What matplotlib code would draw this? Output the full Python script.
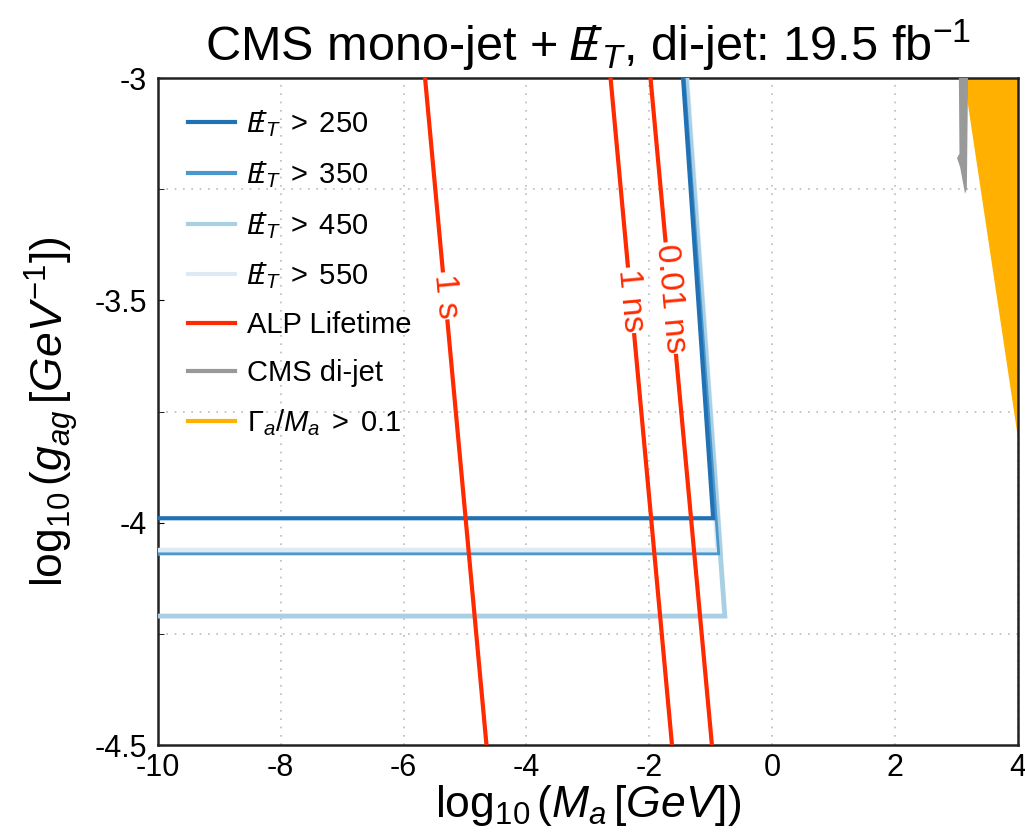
import matplotlib
matplotlib.use("Agg")
import matplotlib.pyplot as plt
import numpy as np

plt.rcParams['font.family'] = ['Liberation Sans', 'DejaVu Sans']
plt.rcParams['mathtext.fontset'] = 'custom'
plt.rcParams['mathtext.rm'] = 'Liberation Sans'
plt.rcParams['mathtext.it'] = 'Liberation Sans:italic'
plt.rcParams['mathtext.bf'] = 'Liberation Sans:bold'
plt.rcParams['axes.unicode_minus'] = False

# mono-jet + MET limits (log10 Ma, log10 g_ag), boundary of excluded region
met_labels = [r'$/\!\!\!\!E_T\;>\;250$', r'$/\!\!\!\!E_T\;>\;350$',
              r'$/\!\!\!\!E_T\;>\;450$', r'$/\!\!\!\!E_T\;>\;550$']
met_x = [[-10, -0.96, -1.45], [-10, -0.87, -1.43],
         [-10, -0.77, -1.40], [-10, -0.86, -1.41]]
met_y = [[-3.99, -3.99, -3.0], [-4.07, -4.07, -3.0],
         [-4.21, -4.21, -3.0], [-4.065, -4.065, -3.0]]
met_colors = ['#2171b5', '#4a98cb', '#a9cfe5', '#dceaf6']
met_widths = [3, 2, 3.5, 5.5]

# ALP lifetime contours
life_labels = ['1 s', '1 ns', '0.01 ns']
life_x = [[-5.65, -4.65], [-2.63, -1.63], [-1.98, -0.98]]
life_y = [[-3.0, -4.5], [-3.0, -4.5], [-3.0, -4.5]]
life_label_pos = [(-5.32, -3.49), (-2.30, -3.50), (-1.65, -3.495)]

# CMS di-jet excluded sliver
dijet_x = [3.04, 3.05, 3.01, 3.06, 3.14, 3.17, 3.19]
dijet_y = [-3.0, -3.17, -3.18, -3.2, -3.26, -3.25, -3.0]

# width over mass > 0.1
wide_x = [3.13, 4.0, 4.0]
wide_y = [-3.0, -3.0, -3.81]

fig = plt.figure(figsize=(10.25, 8.39), dpi=100)
ax = fig.add_axes([0.154, 0.112, 0.839, 0.795])

ax.fill(wide_x, wide_y, color='#ffb000', lw=0, zorder=2)
ax.fill(dijet_x, dijet_y, color='#999999', lw=0, zorder=3)

for xs, ys, c, w, lab in zip(met_x[::-1], met_y[::-1], met_colors[::-1],
                             met_widths[::-1], met_labels[::-1]):
    ax.plot(xs, ys, color=c, lw=w, label=lab, zorder=4,
            solid_joinstyle='miter')

red = '#ff2a00'
for i, (xs, ys) in enumerate(zip(life_x, life_y)):
    ax.plot(xs, ys, color=red, lw=3, zorder=5,
            label='ALP Lifetime' if i == 0 else None)
    px, py = life_label_pos[i]
    ax.text(px, py, life_labels[i], color=red, fontsize=24, rotation=-84.7,
            rotation_mode='anchor', ha='center', va='center', zorder=6,
            bbox=dict(facecolor='white', edgecolor='none', pad=1))

# legend proxies for filled regions
ax.plot([], [], color='#999999', lw=3, label='CMS di-jet')
ax.plot([], [], color='#ffb000', lw=3, label=r'$\Gamma_a/M_a\;>\;0.1$')

handles, labels = ax.get_legend_handles_labels()
order = [3, 2, 1, 0, 4, 5, 6]
leg = ax.legend([handles[i] for i in order], [labels[i] for i in order],
                loc='upper left', frameon=False, fontsize=21,
                handlelength=1.6, handletextpad=0.4, labelspacing=0.68,
                borderaxespad=0.65)
for h in leg.legend_handles:
    h.set_linewidth(3)

ax.set_xlim(-10, 4)
ax.set_ylim(-4.5, -3)
ax.set_xticks(np.arange(-10, 5, 2))
ax.set_yticks([-4.5, -4, -3.5, -3])
ax.set_yticklabels(['-4.5', '-4', '-3.5', '-3'])
ax.set_yticks(np.arange(-4.5, -2.9, 0.25), minor=True)
ax.grid(True, which='major', axis='x', color='#bbbbbb', ls=(0, (1, 4)), lw=1.2, zorder=0)
ax.grid(True, which='minor', axis='y', color='#bbbbbb', ls=(0, (1, 4)), lw=1.2, zorder=0)
ax.set_axisbelow(True)
ax.tick_params(axis='x', length=0, labelsize=22, pad=6)
ax.tick_params(axis='y', which='both', direction='in', length=4, labelsize=22, pad=8)
for s in ax.spines.values():
    s.set_linewidth(1.8)
    s.set_color('#222222')

ax.set_xlabel(r'log$_{10}\,(M_a\,[GeV])$', fontsize=32, labelpad=0)
ax.set_ylabel(r'log$_{10}\,(g_{ag}\,[GeV^{-1}])$', fontsize=32, labelpad=10)
ax.set_title(r'CMS mono-jet + $\;/\!\!\!\!E_T$, di-jet: 19.5 fb$^{-1}$', fontsize=35, pad=12)

fig.savefig('out.png', dpi=100)
